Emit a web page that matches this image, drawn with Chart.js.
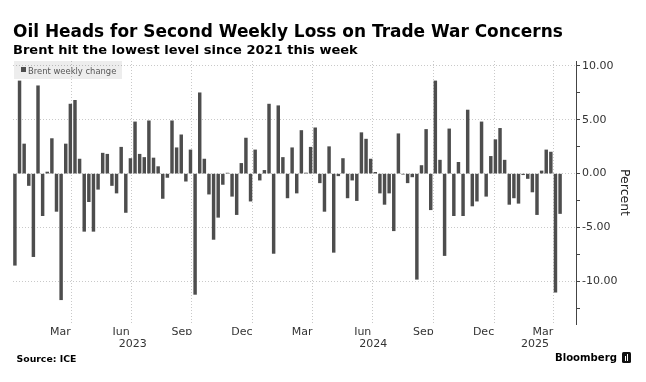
<!DOCTYPE html>
<html><head><meta charset="utf-8">
<script src="https://cdn.jsdelivr.net/npm/chart.js@4.4.1/dist/chart.umd.min.js"></script>
<style>
html,body{margin:0;padding:0;background:#fff;width:646px;height:382px;overflow:hidden;font-family:"DejaVu Sans",sans-serif}
#wrap{position:relative;width:646px;height:382px}
#c{position:absolute;left:0;top:0}
.t{position:absolute;white-space:nowrap;line-height:1.2;left:0;top:0}
i.bl{display:inline-block;width:0;height:0}
#title{font-weight:bold;font-size:16px;color:#000}
#sub{font-weight:bold;font-size:13px;color:#000}
#src{font-weight:bold;font-size:9px;color:#000}
#logo{font-weight:bold;font-size:11px;color:#000}
#legbox{position:absolute;left:14px;top:61px;width:108px;height:18px;background:rgba(0,0,0,0.07)}
#legsw{position:absolute;left:20.5px;top:67px;width:5px;height:5px;background:#4d4d4d}
#legtxt{font-size:8.5px;color:#555}
#ico{position:absolute;left:622px;top:352px;width:9px;height:11px;background:#111;border-radius:1.5px}
#ico b{position:absolute;background:#fff;width:1.2px;bottom:2px}
</style></head><body>
<div id="wrap">
<canvas id="c" width="646" height="382"></canvas>
<div id="title" class="t">Oil Heads for Second Weekly Loss on Trade War Concerns<i class="bl"></i></div>
<div id="sub" class="t">Brent hit the lowest level since 2021 this week<i class="bl"></i></div>
<div id="legbox"></div>
<div id="legsw"></div>
<div id="legtxt" class="t">Brent weekly change<i class="bl"></i></div>
<div id="src" class="t">Source: ICE<i class="bl"></i></div>
<div id="logo" class="t">Bloomberg<i class="bl"></i></div>
<div id="ico"><b style="left:2.5px;height:5px"></b><b style="left:5px;height:7px"></b></div>
</div>
<script>
// ---- Data (Brent weekly % change, week ending Fridays) ----
const firstWeekEnding = '2023-01-06';
const weeklyChange = [
  -8.5, 8.6, 2.75, -1.1, -7.7, 8.15, -3.9, 0.15, 3.25, -3.5,
  -11.7, 2.75, 6.45, 6.8, 1.35, -5.35, -2.6, -5.35, -1.45, 1.9,
  1.8, -1.1, -1.8, 2.45, -3.6, 1.4, 4.8, 1.8, 1.5, 4.9,
  1.45, 0.65, -2.3, -0.35, 4.9, 2.4, 3.6, -0.7, 2.2, -11.2,
  7.5, 1.35, -1.9, -6.1, -4.05, -1.0, 0.05, -2.1, -3.8, 0.95,
  3.3, -2.55, 2.2, -0.6, 0.3, 6.45, -7.4, 6.3, 1.5, -2.25,
  2.4, -1.8, 4.0, 0.06, 2.45, 4.25, -0.85, -3.5, 2.5, -7.3,
  -0.2, 1.4, -2.25, -0.6, -2.5, 3.8, 3.2, 1.35, 0.12, -1.8,
  -2.85, -1.8, -5.3, 3.7, -0.05, -0.85, -0.3, -9.8, 0.75, 4.1,
  -3.35, 8.6, 1.25, -7.6, 4.15, -3.9, 1.05, -3.9, 5.9, -3.0,
  -2.55, 4.8, -2.1, 1.6, 3.15, 4.2, 1.25, -2.85, -2.25, -2.75,
  -0.1, -0.45, -1.7, -3.8, 0.25, 2.2, 2.0, -11.0, -3.7
];
const monthLabels = ['Mar','Jun','Sep','Dec','Mar','Jun','Sep','Dec','Mar'];
const monthLabelDates = ['2023-03-16','2023-06-16','2023-09-16','2023-12-16','2024-03-16','2024-06-16','2024-09-16','2024-12-16','2025-03-16'];
const gridDates = ['2023-04-01','2023-07-01','2023-10-01','2024-01-01','2024-04-01','2024-07-01','2024-10-01','2025-01-01','2025-04-01'];
const yearLabels = ['2023','2024','2025'];
const yTickValues = [-12.5,-10,-7.5,-5,-2.5,0,2.5,5,7.5,10];
const yMin = -13.95, yMax = 10.45;

// ---- helpers ----
const day = s => Date.parse(s + 'T00:00:00Z') / 86400000;
const start = day(firstWeekEnding);
const weekDays = weeklyChange.map((_, i) => start + 7 * i);
const xMin = start - 2.9, xMax = start + 850.1;
const gridDays = gridDates.map(day);
const labelDays = monthLabelDates.map(day);
const yearCenters = yearLabels.map(y => {
  const a = Math.max(xMin, day(y + '-01-01'));
  const b = Math.min(xMax, day((+y + 1) + '-01-01'));
  return (a + b) / 2;
});
const labelMap = new Map(labelDays.map((v, i) => [v, monthLabels[i]]));
const yearMap = new Map(yearCenters.map((v, i) => [v, yearLabels[i]]));
const gridSet = new Set(gridDays);

const FONT = 'DejaVu Sans';

new Chart(document.getElementById('c'), {
  type: 'bar',
  data: {
    datasets: [{
      label: 'Brent weekly change',
      data: weekDays.map((x, i) => ({ x, y: weeklyChange[i] })),
      backgroundColor: '#4d4d4d',
      borderWidth: 0,
      barThickness: 2.8
    }]
  },
  options: {
    responsive: false,
    devicePixelRatio: 1,
    animation: false,
    layout: { padding: { left: 13, right: 0, top: 61, bottom: 31 } },
    plugins: { legend: { display: false }, tooltip: { enabled: false } },
    scales: {
      x: {
        type: 'linear', min: xMin, max: xMax, offset: false, weight: 0,
        afterBuildTicks: s => {
          s.ticks = [...gridDays, ...labelDays].sort((a, b) => a - b).map(v => ({ value: v }));
        },
        afterFit: s => { s.height = 11; },
        ticks: {
          autoSkip: false, maxRotation: 0, minRotation: 0, padding: 2,
          font: { family: FONT, size: 11 }, color: '#333',
          callback: v => labelMap.get(v) || ''
        },
        grid: {
          offset: false, drawTicks: false, lineWidth: 1,
          color: ctx => (ctx.tick && gridSet.has(ctx.tick.value)) ? '#c9c9c9' : 'rgba(0,0,0,0)'
        },
        border: { display: false, dash: [1, 2] }
      },
      x2: {
        type: 'linear', position: 'bottom', min: xMin, max: xMax, offset: false, weight: 1,
        afterBuildTicks: s => { s.ticks = yearCenters.map(v => ({ value: v })); },
        afterFit: s => { s.height = 16; },
        ticks: {
          autoSkip: false, maxRotation: 0, minRotation: 0, padding: 3,
          font: { family: FONT, size: 11 }, color: '#333',
          callback: v => yearMap.get(v) || ''
        },
        grid: { display: false, drawTicks: false },
        border: { display: false }
      },
      y: {
        position: 'right', min: yMin, max: yMax,
        afterBuildTicks: s => { s.ticks = yTickValues.map(v => ({ value: v })); },
        afterFit: s => { s.width = 70; },
        ticks: {
          autoSkip: false, padding: 2,
          font: { family: FONT, size: 11 }, color: '#333',
          callback: v => (v % 5 === 0 ? v.toFixed(2) : '')
        },
        grid: {
          drawTicks: true, tickLength: 4, tickColor: '#444', lineWidth: 1,
          color: ctx => (ctx.tick && ctx.tick.value % 5 === 0) ? '#c9c9c9' : 'rgba(0,0,0,0)'
        },
        border: { display: true, color: '#444', width: 1, dash: [1, 2] },
        title: {
          display: true, text: 'Percent', color: '#222',
          font: { family: FONT, size: 12.5 }, padding: { top: 14, bottom: 0 }
        }
      }
    }
  }
});

// ---- place HTML text by baseline ----
function place(id, left, baseline, targetWidth) {
  const el = document.getElementById(id);
  if (targetWidth) {
    const base = parseFloat(getComputedStyle(el).fontSize);
    const w = el.getBoundingClientRect().width;
    el.style.fontSize = (base * targetWidth / w) + 'px';
  }
  el.style.left = left + 'px';
  el.style.top = '0px';
  const m = el.querySelector('i.bl');
  const off = m.getBoundingClientRect().top - el.getBoundingClientRect().top;
  el.style.top = (baseline - off) + 'px';
}
place('title', 13, 37, 550);
place('sub', 13, 54, 345);
place('legtxt', 28, 74, 88.5);
place('src', 16.5, 361.5, 60);
place('logo', 555, 361, 62);
</script>
</body></html>
